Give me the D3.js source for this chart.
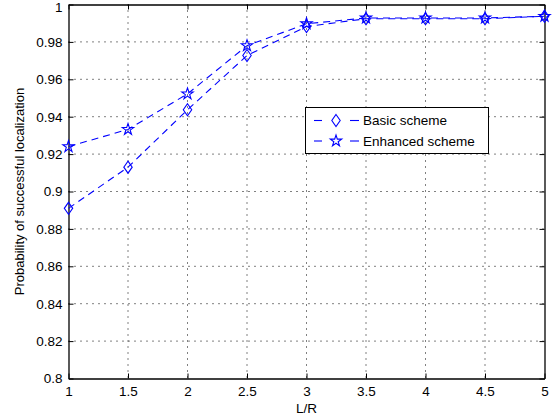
<!DOCTYPE html>
<html>
<head>
<meta charset="utf-8">
<script src="https://cdn.jsdelivr.net/npm/d3@7.9.0/dist/d3.min.js"></script>
<style>
  body { margin: 0; background: #fff; }
  svg { font-family: "Liberation Sans", Arial, sans-serif; }
</style>
</head>
<body>
<svg width="554" height="419"></svg>
<script>
// data
const lr = [1, 1.5, 2, 2.5, 3, 3.5, 4, 4.5, 5];
const basic = [0.891, 0.913, 0.9437, 0.9727, 0.9882, 0.9924, 0.9924, 0.9924, 0.9937];
const enhanced = [0.924, 0.9332, 0.9522, 0.978, 0.9897, 0.9928, 0.9928, 0.9928, 0.9937];
const xTicks = [1, 1.5, 2, 2.5, 3, 3.5, 4, 4.5, 5];
const yTicks = [0.8, 0.82, 0.84, 0.86, 0.88, 0.9, 0.92, 0.94, 0.96, 0.98, 1];
const names = ['Basic scheme', 'Enhanced scheme'];

const svg = d3.select('svg');
const pL = 68.5, pR = 544.5, pT = 4.5, pB = 378.5;

const x = d3.scaleLinear().domain([1, 5]).range([pL, pR]);
const y = d3.scaleLinear().domain([0.8, 1]).range([pB, pT]);

// grid
svg.append('g').selectAll('line').data(xTicks.slice(1, -1)).join('line')
  .attr('x1', d => x(d)).attr('x2', d => x(d)).attr('y1', pT).attr('y2', pB)
  .attr('stroke', '#000').attr('stroke-width', 1).attr('stroke-dasharray', '1,5');
svg.append('g').selectAll('line').data(yTicks.slice(1, -1)).join('line')
  .attr('y1', d => y(d)).attr('y2', d => y(d)).attr('x1', pL).attr('x2', pR)
  .attr('stroke', '#000').attr('stroke-width', 1).attr('stroke-dasharray', '1,5');

// axes with inward ticks
const fmt = d => String(+d.toFixed(2));
const xAxis = svg.append('g').attr('transform', `translate(0,${pB})`)
  .call(d3.axisBottom(x).tickValues(xTicks).tickFormat(fmt).tickSizeInner(-5).tickSizeOuter(0).tickPadding(8));
svg.append('g').attr('transform', `translate(0,${pT})`)
  .call(d3.axisTop(x).tickValues(xTicks).tickFormat('').tickSizeInner(-5).tickSizeOuter(0));
const yAxis = svg.append('g').attr('transform', `translate(${pL},0)`)
  .call(d3.axisLeft(y).tickValues(yTicks).tickFormat(fmt).tickSizeInner(-5).tickSizeOuter(0).tickPadding(6));
svg.append('g').attr('transform', `translate(${pR},0)`)
  .call(d3.axisRight(y).tickValues(yTicks).tickFormat('').tickSizeInner(-5).tickSizeOuter(0));

svg.selectAll('.domain').attr('stroke', '#000').attr('stroke-width', 1.3);
svg.selectAll('.tick line').attr('stroke', '#000');
svg.selectAll('.tick text').attr('font-size', 13.5).attr('fill', '#000')
  .attr('font-family', '"Liberation Sans", Arial, sans-serif');
xAxis.selectAll('.tick text').attr('dy', '0.71em');
// keep the top label "1" inside the picture, as in the reference
yAxis.selectAll('.tick text').filter(d => d === 1).attr('dy', '0.5em');

// axis labels
svg.append('text').attr('x', x(3)).attr('y', 413).attr('text-anchor', 'middle')
  .attr('font-size', 13.5).text('L/R');
svg.append('text').attr('transform', `translate(24,${(pT + pB) / 2}) rotate(-90)`)
  .attr('text-anchor', 'middle').attr('font-size', 13).text('Probability of successful localization');

const blue = '#0000ff';
const line = d3.line().x(d => x(d[0])).y(d => y(d[1]));

const diamond = 'M0,-6L4.2,0L0,6L-4.2,0Z';
const star = d3.symbol(d3.symbolStar, 40)();

function series(vals, shape) {
  const pts = lr.map((v, i) => [v, vals[i]]);
  svg.append('path').datum(pts).attr('d', line)
    .attr('fill', 'none').attr('stroke', blue).attr('stroke-width', 1.1)
    .attr('stroke-dasharray', '7,5');
  svg.append('g').selectAll('path').data(pts).join('path')
    .attr('transform', d => `translate(${x(d[0])},${y(d[1])})`)
    .attr('d', shape).attr('fill', 'none').attr('stroke', blue).attr('stroke-width', 1.1);
}
series(basic, diamond);
series(enhanced, star);

// legend
const lg = svg.append('g');
lg.append('rect').attr('x', 305.5).attr('y', 107.5).attr('width', 183).attr('height', 46)
  .attr('fill', '#fff').attr('stroke', '#000').attr('stroke-width', 1);
names.forEach((n, i) => {
  const cy = 120.5 + i * 20.5;
  [[314, 322], [350, 359]].forEach(([a, b]) => {
    lg.append('line').attr('x1', a).attr('x2', b).attr('y1', cy).attr('y2', cy)
      .attr('stroke', blue).attr('stroke-width', 1.1);
  });
  lg.append('path').attr('transform', `translate(336,${cy})`).attr('d', i === 0 ? diamond : star)
    .attr('fill', 'none').attr('stroke', blue).attr('stroke-width', 1.1);
  lg.append('text').attr('x', 363).attr('y', cy).attr('dy', '0.35em')
    .attr('font-size', 13.5).text(n);
});
</script>
</body>
</html>
